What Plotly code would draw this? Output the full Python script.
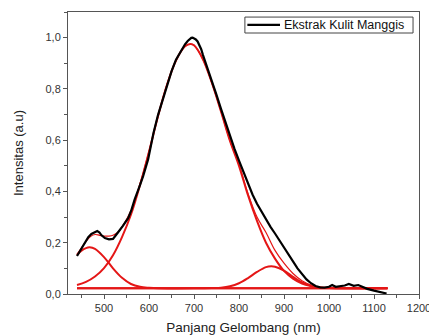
import plotly.graph_objects as go

# ---- data ----
x_black = [440, 445, 450, 458, 465, 472, 479, 485, 490, 494, 502, 511, 520, 526, 531, 542, 554, 561, 568,
           580, 587, 598, 610, 620, 630, 640, 650, 660, 670, 680, 686, 690, 694, 697, 700, 704, 708, 712,
           716, 720, 730, 740, 750, 760, 770, 780, 790, 800, 810, 820, 830, 840, 850, 860, 870, 880, 890,
           900, 910, 920, 930, 940, 950, 960, 970, 980, 990, 1000, 1007, 1015, 1025, 1035, 1044, 1055,
           1065, 1074, 1085, 1100, 1115, 1128]
y_black = [0.148, 0.163, 0.180, 0.203, 0.222, 0.234, 0.242, 0.246, 0.240, 0.230, 0.218, 0.213, 0.215,
           0.227, 0.240, 0.266, 0.297, 0.328, 0.368, 0.425, 0.460, 0.525, 0.628, 0.698, 0.758, 0.818,
           0.868, 0.914, 0.947, 0.974, 0.987, 0.994, 0.999, 1.000, 0.998, 0.993, 0.985, 0.972, 0.955,
           0.932, 0.882, 0.830, 0.777, 0.722, 0.668, 0.618, 0.566, 0.520, 0.475, 0.428, 0.388, 0.352,
           0.320, 0.290, 0.262, 0.236, 0.210, 0.182, 0.155, 0.127, 0.100, 0.077, 0.057, 0.042, 0.031,
           0.026, 0.025, 0.028, 0.035, 0.028, 0.030, 0.033, 0.039, 0.032, 0.035, 0.028, 0.020, 0.013,
           0.007, 0.002]

x_peak1 = [440, 450, 460, 468, 480, 500, 520, 540, 560, 580, 600, 620, 700, 1130]
y_peak1 = [0.152, 0.169, 0.179, 0.182, 0.176, 0.144, 0.100, 0.063, 0.039, 0.028, 0.024, 0.022, 0.022, 0.022]

x_peak2 = [440, 460, 480, 500, 520, 540, 560, 580, 600, 620, 640, 660, 680, 692, 700, 720, 740, 760,
           780, 800, 820, 840, 860, 880, 900, 920, 940, 960, 980, 1000, 1040, 1130]
y_peak2 = [0.035, 0.047, 0.068, 0.101, 0.151, 0.222, 0.310, 0.425, 0.555, 0.693, 0.816, 0.911, 0.966,
           0.975, 0.970, 0.915, 0.822, 0.712, 0.597, 0.500, 0.385, 0.285, 0.200, 0.138, 0.090, 0.060,
           0.041, 0.031, 0.025, 0.023, 0.022, 0.022]

x_peak3 = [440, 700, 740, 760, 780, 800, 820, 840, 860, 872, 880, 900, 920, 940, 960, 980, 1000, 1130]
y_peak3 = [0.022, 0.022, 0.023, 0.0245, 0.030, 0.042, 0.062, 0.086, 0.105, 0.108, 0.106, 0.091, 0.067,
           0.045, 0.032, 0.025, 0.023, 0.022]

x_base = [440, 1130]
y_base = [0.022, 0.022]

x_sum = [440, 450, 460, 470, 480, 490, 500, 510, 520, 530, 540, 560, 580, 600, 620, 640, 660, 680, 692,
         700, 720, 740, 760, 780, 800, 820, 840, 860, 880, 900, 920, 940, 960, 980, 1000, 1040, 1130]
y_sum = [0.155, 0.180, 0.205, 0.224, 0.232, 0.229, 0.226, 0.226, 0.229, 0.240, 0.262, 0.326, 0.430,
         0.557, 0.693, 0.816, 0.911, 0.966, 0.975, 0.970, 0.915, 0.822, 0.712, 0.598, 0.505, 0.392,
         0.300, 0.240, 0.170, 0.120, 0.080, 0.052, 0.035, 0.026, 0.023, 0.022, 0.022]

x_ticks = [500, 600, 700, 800, 900, 1000, 1100, 1200]
y_ticks = [0.0, 0.2, 0.4, 0.6, 0.8, 1.0]
y_tick_text = ["0,0", "0,2", "0,4", "0,6", "0,8", "1,0"]
legend_label = "Ekstrak Kulit Manggis"

RED = "rgb(228,22,22)"
AX = "#555"
FONT = "Liberation Sans, Arial, sans-serif"

fig = go.Figure()
fig.add_trace(go.Scatter(x=x_base, y=y_base, mode="lines", line=dict(color=RED, width=2), showlegend=False))
fig.add_trace(go.Scatter(x=x_peak1, y=y_peak1, mode="lines", line=dict(color=RED, width=2, shape="spline"), showlegend=False))
fig.add_trace(go.Scatter(x=x_peak3, y=y_peak3, mode="lines", line=dict(color=RED, width=2, shape="spline"), showlegend=False))
fig.add_trace(go.Scatter(x=x_peak2, y=y_peak2, mode="lines", line=dict(color=RED, width=2, shape="spline"), showlegend=False))
fig.add_trace(go.Scatter(x=x_sum, y=y_sum, mode="lines", line=dict(color=RED, width=1.2, shape="spline"), showlegend=False))
fig.add_trace(go.Scatter(x=x_black, y=y_black, mode="lines", name=legend_label, showlegend=False,
                         line=dict(color="black", width=2.2)))

axis_common = dict(
    showgrid=False, zeroline=False, showline=True, linecolor=AX, linewidth=1, mirror=True,
    ticks="outside", ticklen=4, tickwidth=1, tickcolor=AX, automargin=False,
    tickfont=dict(family=FONT, size=11, color="#333"),
)
fig.update_xaxes(range=[420, 1200], tickvals=x_ticks, ticklabeloverflow="allow",
                 minor=dict(dtick=50, tick0=0, ticks="outside", ticklen=3, tickcolor=AX),
                 title=dict(text="Panjang Gelombang (nm)", font=dict(family=FONT, size=13.5, color="#222"), standoff=9),
                 **axis_common)
fig.update_yaxes(range=[0, 1.1], tickvals=y_ticks, ticktext=y_tick_text,
                 minor=dict(dtick=0.1, tick0=0, ticks="outside", ticklen=3, tickcolor=AX),
                 title=dict(text="Intensitas (a.u)", font=dict(family=FONT, size=13, color="#222"), standoff=18),
                 **axis_common)

# legend box drawn manually (plot area spans 68..419 px horizontally, 12..294 px vertically)
fig.add_shape(type="rect", xref="paper", yref="paper", x0=0.504, x1=0.983, y0=0.9255, y1=0.982,
              line=dict(color="#444", width=1), fillcolor="white", layer="above")
fig.add_shape(type="line", xref="paper", yref="paper", x0=0.511, x1=0.604, y0=0.954, y1=0.954,
              line=dict(color="black", width=2.2), layer="above")
fig.add_annotation(xref="paper", yref="paper", x=0.611, y=0.954, xanchor="left", yanchor="middle",
                   text=legend_label, showarrow=False, font=dict(family=FONT, size=12.5, color="#111"))

fig.update_layout(
    width=429, height=336,
    margin=dict(l=68, r=10, t=12, b=42),
    paper_bgcolor="white", plot_bgcolor="white",
    font=dict(family=FONT),
    showlegend=False,
)

fig.write_html("out.html")
